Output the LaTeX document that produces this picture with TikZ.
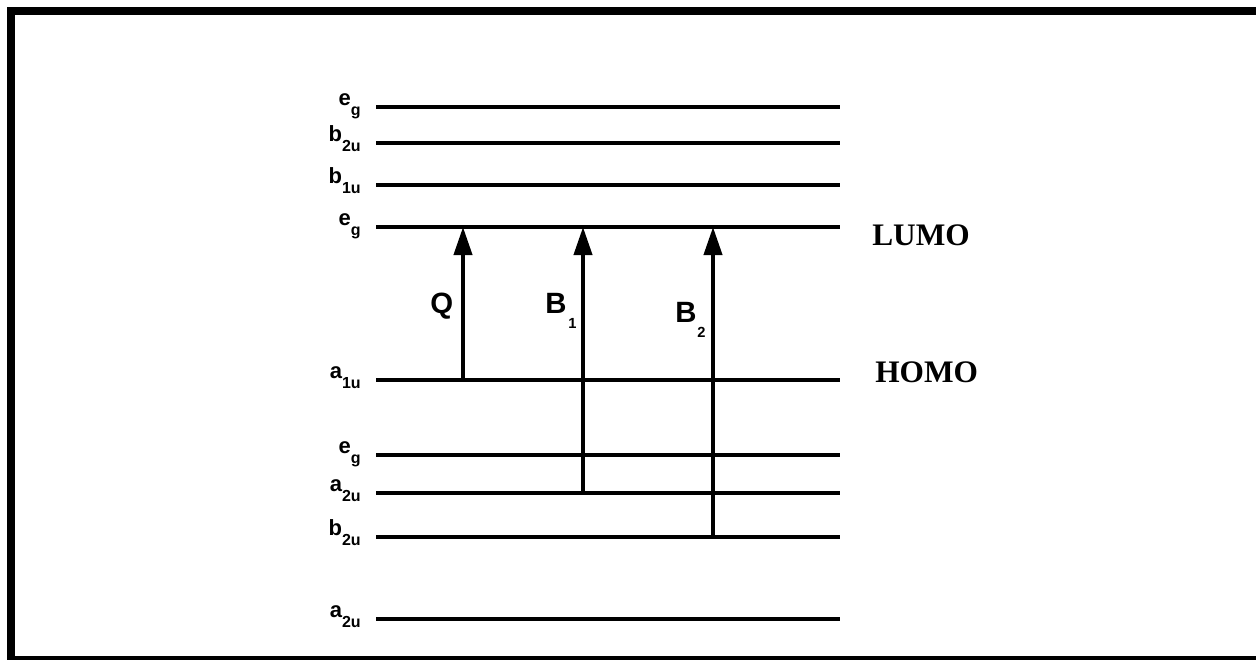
\documentclass[tikz,border=0pt]{standalone}
\usepackage{fontspec}
\setmainfont{Liberation Sans}
\newfontfamily\serifb{Liberation Serif}
\usetikzlibrary{arrows.meta}
\newcommand{\lvlab}[2]{#1\raisebox{-7.5pt}{\fontsize{12}{12}\selectfont #2}}
\tikzset{
  level/.style={line width=3.2pt},
  trans/.style={line width=3pt, -{Triangle[length=21pt,width=13.5pt]}},
  lvlname/.style={anchor=base east, inner sep=0pt, font=\fontsize{16.5}{16.5}\selectfont\bfseries},
  bandname/.style={anchor=base west, inner sep=0pt, font=\fontsize{22}{22}\selectfont\bfseries},
  subnum/.style={anchor=base west, inner sep=0pt, font=\fontsize{11}{11}\selectfont\bfseries},
  orbname/.style={anchor=base west, inner sep=0pt, font=\serifb\fontsize{23.5}{23.5}\selectfont\bfseries},
  frame/.style={line width=6pt}
}
\begin{document}
\begin{tikzpicture}[x=0.75pt,y=-0.75pt]
\useasboundingbox (0,0) rectangle (1256,660);
\clip (0,0) rectangle (1256,660);
\draw[frame] (11,11) rectangle (1264,659.5);
% levels
\foreach \yy/\nm/\lab in {107/l1/{\lvlab{e}{g}},143/l2/{\lvlab{b}{2u}},185/l3/{\lvlab{b}{1u}},227/l4/{\lvlab{e}{g}},380/l5/{\lvlab{a}{1u}},455/l6/{\lvlab{e}{g}},493/l7/{\lvlab{a}{2u}},537/l8/{\lvlab{b}{2u}},619/l9/{\lvlab{a}{2u}}}{
  \coordinate (\nm a) at (376,\yy);
  \coordinate (\nm b) at (840,\yy);
  \draw[level] (\nm a) -- (\nm b);
  \node[lvlname] (\nm t) at (361,\yy-2) {\lab};
}
% transitions
\coordinate (q0) at (463,380);
\coordinate (q1) at (463,227);
\coordinate (ba0) at (583,493);
\coordinate (ba1) at (583,227);
\coordinate (bb0) at (713,537);
\coordinate (bb1) at (713,227);
\draw[trans] (q0) -- (q1);
\draw[trans] (ba0) -- (ba1);
\draw[trans] (bb0) -- (bb1);
\node[bandname] (qt) at (430,313) {Q};
\node[bandname] (b1t) at (545,313) {B};
\node[subnum] (b1s) at (568,328) {1};
\node[bandname] (b2t) at (675,322) {B};
\node[subnum] (b2s) at (697,337) {2};
\node[orbname] (lumo) at (872,245) {LUMO};
\node[orbname] (homo) at (875,382) {HOMO};
\end{tikzpicture}
\end{document}
